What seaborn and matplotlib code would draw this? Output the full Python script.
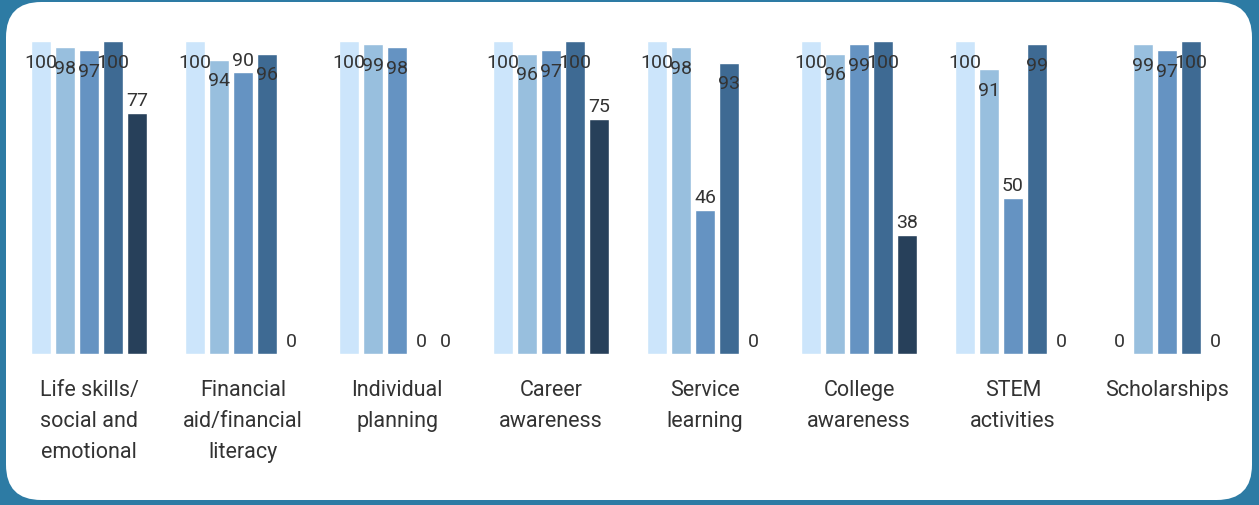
import pandas as pd
import seaborn as sns
from matplotlib import pyplot as plt
from matplotlib.patches import FancyBboxPatch

# data
categories = ["Life skills/\nsocial and\nemotional", "Financial\naid/financial\nliteracy",
              "Individual\nplanning", "Career\nawareness", "Service\nlearning",
              "College\nawareness", "STEM\nactivities", "Scholarships"]
series = ["S1", "S2", "S3", "S4", "S5"]
s1 = [100, 100, 100, 100, 100, 100, 100, 0]
s2 = [98, 94, 99, 96, 98, 96, 91, 99]
s3 = [97, 90, 98, 97, 46, 99, 50, 97]
s4 = [100, 96, 0, 100, 93, 100, 99, 100]
s5 = [77, 0, 0, 75, 0, 38, 0, 0]
colors = ["#cce5fb", "#98bfde", "#6593c2", "#3e6a93", "#27405a"]

rows = []
for name, vals in zip(series, [s1, s2, s3, s4, s5]):
    for cat, v in zip(categories, vals):
        rows.append({"category": cat, "series": name, "value": v})
df = pd.DataFrame(rows)

sns.set_style("white")
plt.rcParams["font.family"] = ["Roboto", "DejaVu Sans"]

fig = plt.figure(figsize=(12.59, 5.05), dpi=100)
fig.patch.set_facecolor("#2d7ba4")
# white rounded card behind the axes
card = FancyBboxPatch((6 / 1259, 5 / 505), 1246 / 1259, 498 / 505,
                      boxstyle="round,pad=0,rounding_size=0.028",
                      transform=fig.transFigure, facecolor="white",
                      edgecolor="none", mutation_aspect=1259 / 505, zorder=-5)
fig.patches.append(card)

ax = fig.add_axes([12 / 1259, 151 / 505, 1232 / 1259, 313 / 505])
ax.set_facecolor("none")
ax.set_zorder(2)
sns.barplot(data=df, x="category", y="value", hue="series", palette=colors,
            width=0.78, gap=0.14, ax=ax, legend=False, saturation=1)
ax.set_ylim(0, 100)
ax.set_xlim(-0.5, 7.5)
ax.set_xlabel("")
ax.set_ylabel("")
ax.set_yticks([])
sns.despine(ax=ax, left=True, bottom=True)
ax.tick_params(axis="x", length=0, pad=19)
for lab in ax.get_xticklabels():
    lab.set_fontsize(15.5)
    lab.set_color("#333333")
    lab.set_linespacing(1.6)

for cont in ax.containers:
    for bar in cont:
        h = bar.get_height()
        x = bar.get_x() + bar.get_width() / 2
        if h > 90:
            ax.annotate(f"{h:.0f}", (x, h), xytext=(0, -9), textcoords="offset points",
                        ha="center", va="top", fontsize=14, color="#333333")
        else:
            ax.annotate(f"{h:.0f}", (x, h), xytext=(0, 2), textcoords="offset points",
                        ha="center", va="bottom", fontsize=14, color="#333333")

fig.savefig("out.png", dpi=100, facecolor=fig.get_facecolor())
